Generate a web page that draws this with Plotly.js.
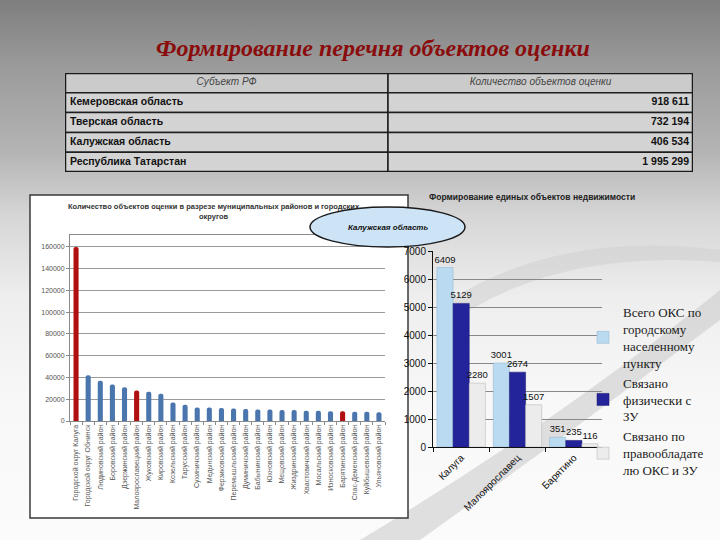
<!DOCTYPE html>
<html>
<head>
<meta charset="utf-8">
<script src="https://cdn.plot.ly/plotly-3.0.1.min.js"></script>
<style>
  html, body { margin: 0; padding: 0; }
  body {
    width: 720px; height: 540px; overflow: hidden;
    background: linear-gradient(to bottom, #7e7e7e 0%, #9a9a9a 12%, #b4b4b4 28%, #d6d6d6 40%, #eeeeee 55%, #f8f8f8 75%, #fbfbfb 100%);
  }
  #chart { width: 720px; height: 540px; }
</style>
</head>
<body>
<div id="chart"></div>
<script>
// ---- Table data ----
const tableHeader = ['Субъект РФ', 'Количество объектов оценки'];
const subjects = ['Кемеровская область', 'Тверская область', 'Калужская область', 'Республика Татарстан'];
const subjectCounts = ['918 611', '732 194', '406 534', '1 995 299'];

// ---- Left chart: objects by municipal district ----
const districts = [
  'Городской округ Калуга', 'Городской округ Обнинск', 'Людиновский район', 'Боровский район',
  'Дзержинский район', 'Малоярославецкий район', 'Жуковский район', 'Кировский район',
  'Козельский район', 'Тарусский район', 'Сухиничский район', 'Медынский район',
  'Ферзиковский район', 'Перемышльский район', 'Думиничский район', 'Бабынинский район',
  'Юхновский район', 'Мещовский район', 'Жиздринский район', 'Хвастовичский район',
  'Мосальский район', 'Износковский район', 'Барятинский район', 'Спас-Деменский район',
  'Куйбышевский район', 'Ульяновский район'
];
const districtCounts = [
  160000, 42000, 37000, 33500, 31000, 28000, 27000, 25000,
  17000, 15000, 12500, 12500, 12000, 11500, 11000, 10500,
  10500, 10000, 10000, 9500, 9500, 9000, 9000, 8500,
  8500, 8000
];
const highlightedDistricts = ['Городской округ Калуга', 'Малоярославецкий район', 'Барятинский район'];
const leftTickVals = [0, 20000, 40000, 60000, 80000, 100000, 120000, 140000, 160000];

// ---- Right chart: unified real estate objects ----
const towns = ['Калуга', 'Малоярославец', 'Барятино'];
const seriesNames = [
  'Всего ОКС по<br>городскому<br>населенному<br>пункту',
  'Связано<br>физически с<br>ЗУ',
  'Связано по<br>правообладате<br>лю ОКС и ЗУ'
];
const totalOKS = [6409, 3001, 351];
const linkedPhysically = [5129, 2674, 235];
const linkedByOwner = [2280, 1507, 116];

const W = 720, H = 540;
const px = x => x / W;
const py = y => 1 - y / H;

const sans = 'Liberation Sans, Arial, sans-serif';
const serif = 'Liberation Serif, Times New Roman, serif';

const leftColors = districts.map(d => highlightedDistricts.includes(d) ? '#b01010' : '#4a76ad');

// ---- Table geometry (axis x3/y3 in pixel-like units) ----
const tableW = 628;
const colEdges = [0, 323, tableW];
const nRows = subjects.length + 1;
const rowCenters = subjects.map((_, i) => i + 1.5);

const tableShapes = [];
for (let r = 0; r < nRows; r++) {
  for (let c = 0; c < 2; c++) {
    tableShapes.push({
      type: 'rect', xref: 'x3', yref: 'y3', layer: 'below',
      x0: colEdges[c], x1: colEdges[c + 1], y0: r, y1: r + 1,
      fillcolor: r === 0 ? '#cbcbcb' : '#d3d3d3',
      line: { color: '#1e1e1e', width: 1.5 }
    });
  }
}
tableShapes.push({
  type: 'rect', xref: 'x3', yref: 'y3', layer: 'below',
  x0: 0, x1: tableW, y0: 0, y1: nRows,
  fillcolor: 'rgba(0,0,0,0)', line: { color: '#1a1a1a', width: 2.5 }
});

const labelFont = { family: sans, size: 9.5, color: '#111' };

const traces = [
  // table header text
  {
    type: 'scatter', mode: 'text', xaxis: 'x3', yaxis: 'y3',
    x: [(colEdges[0] + colEdges[1]) / 2, (colEdges[1] + colEdges[2]) / 2],
    y: [0.5, 0.5],
    text: tableHeader.map(t => '<i>' + t + '</i>'),
    textposition: 'middle center',
    textfont: { family: sans, size: 10, color: '#454545' },
    showlegend: false, hoverinfo: 'none'
  },
  // table first column
  {
    type: 'scatter', mode: 'text', xaxis: 'x3', yaxis: 'y3',
    x: subjects.map(() => 5), y: rowCenters,
    text: subjects.map(s => '<b>' + s + '</b>'),
    textposition: 'middle right',
    textfont: { family: sans, size: 10.5, color: '#111111' },
    showlegend: false, hoverinfo: 'none'
  },
  // table second column
  {
    type: 'scatter', mode: 'text', xaxis: 'x3', yaxis: 'y3',
    x: subjectCounts.map(() => tableW - 4), y: rowCenters,
    text: subjectCounts.map(s => '<b>' + s + '</b>'),
    textposition: 'middle left',
    textfont: { family: sans, size: 10.5, color: '#111111' },
    showlegend: false, hoverinfo: 'none'
  },
  {
    type: 'bar',
    x: districts,
    y: districtCounts,
    xaxis: 'x', yaxis: 'y',
    width: 0.42,
    marker: { color: leftColors, cornerradius: 3 },
    showlegend: false,
    hoverinfo: 'x+y'
  },
  {
    type: 'bar', name: seriesNames[0], x: towns, y: totalOKS,
    xaxis: 'x2', yaxis: 'y2',
    marker: { color: '#b9daf1', line: { color: '#8fb3cf', width: 0.5 } },
    text: totalOKS.map(String), textposition: 'outside', cliponaxis: false, constraintext: 'none',
    textfont: labelFont
  },
  {
    type: 'bar', name: seriesNames[1], x: towns, y: linkedPhysically,
    xaxis: 'x2', yaxis: 'y2',
    marker: { color: '#23239a', line: { color: '#15156e', width: 0.5 } },
    text: linkedPhysically.map(String), textposition: 'outside', cliponaxis: false, constraintext: 'none',
    textfont: labelFont
  },
  {
    type: 'bar', name: seriesNames[2], x: towns, y: linkedByOwner,
    xaxis: 'x2', yaxis: 'y2',
    marker: { color: '#ececec', line: { color: '#b0b0b0', width: 0.5 } },
    text: linkedByOwner.map(String), textposition: 'outside', cliponaxis: false, constraintext: 'none',
    textfont: labelFont
  }
];

const layout = {
  width: W, height: H,
  margin: { l: 0, r: 0, t: 0, b: 0, autoexpand: false },
  paper_bgcolor: 'rgba(0,0,0,0)',
  plot_bgcolor: 'rgba(0,0,0,0)',
  barmode: 'group',
  bargap: 0.14,
  bargroupgap: 0.0,
  showlegend: true,
  legend: {
    x: px(583), y: py(297), xanchor: 'left', yanchor: 'top',
    font: { family: serif, size: 13, color: '#1a1a1a' },
    bgcolor: 'rgba(0,0,0,0)', itemwidth: 30, tracegroupgap: 0
  },
  xaxis: {
    domain: [px(70), px(385)],
    type: 'category',
    tickangle: -90,
    tickfont: { family: sans, size: 7, color: '#555555' },
    showline: true, linecolor: '#8a8a8a', linewidth: 1, mirror: true,
    ticks: 'outside', ticklen: 3, tickcolor: '#8a8a8a', tickson: 'boundaries',
    showgrid: false, fixedrange: true
  },
  yaxis: {
    domain: [py(421), py(235)],
    range: [0, 171000],
    tickvals: leftTickVals,
    tickformat: 'd',
    tickfont: { family: sans, size: 7, color: '#555555' },
    showgrid: true, gridcolor: '#9a9a9a', gridwidth: 1,
    showline: true, linecolor: '#8a8a8a', linewidth: 1,
    ticks: 'outside', ticklen: 3, tickcolor: '#8a8a8a',
    zeroline: false, fixedrange: true
  },
  xaxis2: {
    domain: [px(433), px(602)],
    anchor: 'y2',
    type: 'category',
    tickangle: -45,
    tickfont: { family: sans, size: 10, color: '#111111' },
    showline: true, linecolor: '#111111', linewidth: 1,
    ticks: 'outside', ticklen: 4, tickcolor: '#111111', tickson: 'boundaries',
    showgrid: false, fixedrange: true
  },
  yaxis2: {
    domain: [py(447), py(251)],
    anchor: 'x2',
    range: [0, 7000],
    dtick: 1000,
    tickformat: 'd',
    tickfont: { family: sans, size: 10, color: '#111111' },
    showgrid: true, gridcolor: '#888888', gridwidth: 1,
    showline: true, linecolor: '#111111', linewidth: 1,
    ticks: 'outside', ticklen: 4, tickcolor: '#111111',
    zeroline: false, fixedrange: true
  },
  xaxis3: {
    domain: [px(65), px(693)], anchor: 'y3',
    range: [0, tableW], visible: false, fixedrange: true
  },
  yaxis3: {
    domain: [py(172), py(73)], anchor: 'x3',
    range: [nRows, 0], visible: false, fixedrange: true
  },
  shapes: [
    // decorative swooshes
    {
      type: 'path', xref: 'paper', yref: 'paper', layer: 'below',
      path: `M ${px(360)} ${py(540)} Q ${px(560)} ${py(420)} ${px(720)} ${py(290)} L ${px(720)} ${py(320)} Q ${px(560)} ${py(440)} ${px(420)} ${py(540)} Z`,
      fillcolor: 'rgba(200,200,200,0.55)', line: { width: 0 }
    },
    {
      type: 'path', xref: 'paper', yref: 'paper', layer: 'below',
      path: `M ${px(450)} ${py(300)} Q ${px(560)} ${py(230)} ${px(720)} ${py(250)} L ${px(720)} ${py(262)} Q ${px(570)} ${py(250)} ${px(470)} ${py(310)} Z`,
      fillcolor: 'rgba(205,205,205,0.5)', line: { width: 0 }
    },
    // left chart white box
    {
      type: 'rect', xref: 'paper', yref: 'paper', layer: 'below',
      x0: px(30), x1: px(408), y0: py(518), y1: py(195),
      fillcolor: '#ffffff', line: { color: '#3a3a3a', width: 1.5 }
    },
    ...tableShapes,
    // ellipse callout
    {
      type: 'circle', xref: 'paper', yref: 'paper', layer: 'above',
      x0: px(310), x1: px(465), y0: py(247), y1: py(207),
      fillcolor: '#cde3f6', line: { color: '#1a1a1a', width: 1.5 }
    }
  ],
  annotations: [
    {
      text: '<b><i>Формирование перечня объектов оценки</i></b>',
      xref: 'paper', yref: 'paper', x: px(373), y: py(48), xanchor: 'center', yanchor: 'middle',
      showarrow: false, font: { family: serif, size: 24, color: '#8a0c0c' }
    },
    {
      text: '<b>Количество объектов оценки в разрезе муниципальных районов и городских<br>округов</b>',
      xref: 'paper', yref: 'paper', x: px(214), y: py(211), xanchor: 'center', yanchor: 'middle',
      showarrow: false, font: { family: sans, size: 7.5, color: '#333333' }
    },
    {
      text: '<b>Формирование единых объектов недвижимости</b>',
      xref: 'paper', yref: 'paper', x: px(532), y: py(197), xanchor: 'center', yanchor: 'middle',
      showarrow: false, font: { family: sans, size: 8.5, color: '#222222' }
    },
    {
      text: '<b><i>Калужская область</i></b>',
      xref: 'paper', yref: 'paper', x: px(388), y: py(227), xanchor: 'center', yanchor: 'middle',
      showarrow: false, font: { family: sans, size: 8, color: '#111111' }
    }
  ]
};

Plotly.newPlot('chart', traces, layout, { staticPlot: true, displayModeBar: false });
</script>
</body>
</html>
